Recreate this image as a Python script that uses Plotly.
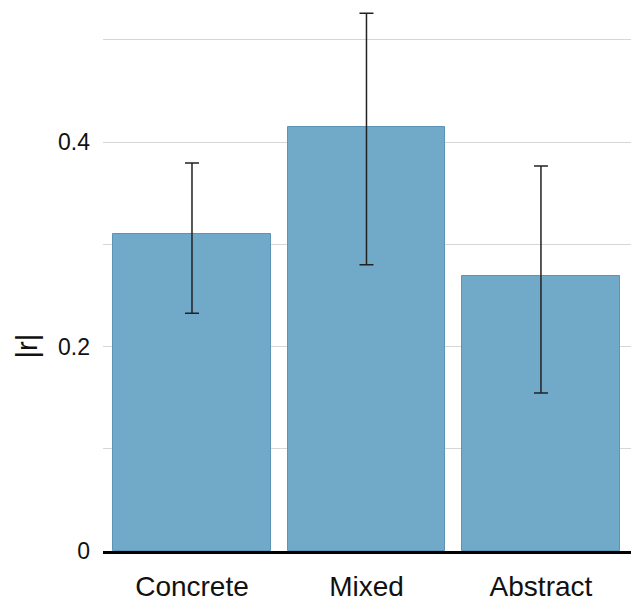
import plotly.graph_objects as go

categories = ["Concrete", "Mixed", "Abstract"]
values = [0.310, 0.415, 0.269]
upper = [0.3795, 0.526, 0.3765]
lower = [0.2325, 0.280, 0.1545]

err_plus = [u - v for u, v in zip(upper, values)]
err_minus = [v - l for v, l in zip(values, lower)]

FONT = "Liberation Sans, Arial, sans-serif"

fig = go.Figure()
fig.add_trace(go.Bar(
    x=categories,
    y=values,
    width=0.905,
    marker=dict(color="#71a9c8", line=dict(color="#5b95b6", width=1)),
    error_y=dict(type="data", array=err_plus, arrayminus=err_minus,
                 color="#222222", thickness=1.5, width=7, visible=True),
))

yticks = [0, 0.1, 0.2, 0.3, 0.4, 0.5]
yticktext = ["0", "", "0.2", "", "0.4", ""]

fig.update_layout(
    width=631, height=599,
    margin=dict(l=103, r=0, t=4, b=48, autoexpand=False),
    plot_bgcolor="white", paper_bgcolor="white",
    showlegend=False,
    font=dict(family=FONT, color="#111111"),
    bargap=0,
    xaxis=dict(
        range=[-0.51, 2.516],
        automargin=False,
        showgrid=False,
        showline=True, linecolor="black", linewidth=3,
        ticks="", tickfont=dict(size=28, family=FONT, color="#111111"),
        ticklabelstandoff=8,
        zeroline=False,
    ),
    yaxis=dict(
        range=[0, 0.535],
        automargin=False,
        tickvals=yticks, ticktext=yticktext,
        showgrid=True, gridcolor="#d6d6d6", gridwidth=1,
        showline=False, zeroline=False,
        ticks="", tickfont=dict(size=23, family=FONT, color="#111111"),
        ticklabelstandoff=12,
    ),
    annotations=[dict(
        text="|r|", xref="paper", yref="y", x=0, y=0.2,
        xanchor="center", yanchor="middle",
        xshift=-76, showarrow=False, textangle=-90,
        font=dict(size=29, family=FONT, color="#111111"),
    )],
)

fig.write_html("out.html", config={"displayModeBar": False},
               post_script="document.body.style.margin='0';")
